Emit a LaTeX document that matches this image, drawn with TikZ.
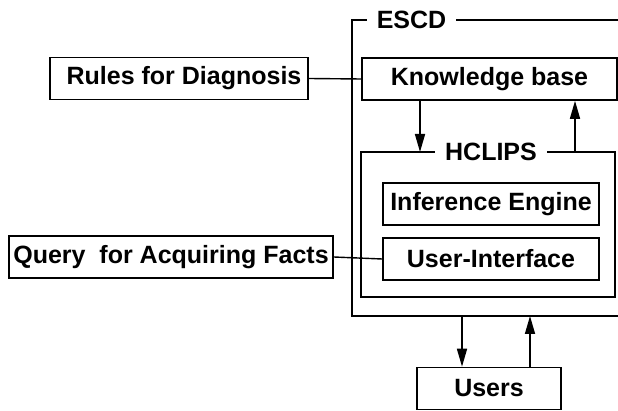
\documentclass[tikz,border=0pt]{standalone}
\usepackage{fontspec}
\setmainfont{Liberation Sans}
\usetikzlibrary{arrows.meta}

\begin{document}
\begin{tikzpicture}[x=1pt,y=-1pt,font=\fontsize{25}{29}\selectfont\bfseries]
	\tikzset{box/.style={draw=black, line width=1.6pt, minimum height=42pt, inner sep=0pt},
		frame/.style={draw=black, line width=1.4pt},
		framelabel/.style={fill=white, inner xsep=10pt, inner ysep=2pt},
		arr/.style={line width=1.6pt, -{Triangle[length=18pt,width=10pt]}}}

	\clip (0,0) rectangle (618,411);

	% ESCD frame (open to the right)
	\coordinate (escdnw) at (352,20);
	\coordinate (escdsw) at (352,316);
	\draw[frame] (640,20) -- (escdnw) -- (escdsw) -- (640,316);
	\node[framelabel] (escd) at (411.5,20) {ESCD};

	% HCLIPS frame
	\coordinate (hcnw) at (361,152);
	\coordinate (hcse) at (615,297);
	\draw[frame] (hcnw) rectangle (hcse);
	\node[framelabel] (hclips) at (491,152) {HCLIPS};

	\node[box, minimum width=258pt] (rules) at (179,78.5) {\hspace{10pt}Rules for Diagnosis};
	\node[box, minimum width=255pt] (kb) at (489.5,79) {Knowledge base};
	\node[box, minimum width=216pt] (ie) at (491,204) {Inference Engine};
	\node[box, minimum width=216pt] (ui) at (491,259) {User-Interface};
	\node[box, minimum width=324pt] (query) at (171,257) {Query~ for Acquiring Facts};
	\node[box, minimum width=144pt] (users) at (489,388.5) {Users};

	\draw[line width=1.4pt] (rules.east) -- (kb.west);
	\draw[line width=1.4pt] (query.east) -- (ui.west);

	\draw[arr] ([xshift=-69.5pt]kb.south) -- ([xshift=-69.5pt]kb.south |- hcnw);
	\draw[arr] ([xshift=85.5pt]kb.south |- hcnw) -- ([xshift=85.5pt]kb.south);

	\draw[arr] ([xshift=-27pt]users.north |- escdsw) -- ([xshift=-27pt]users.north);
	\draw[arr] ([xshift=41pt]users.north) -- ([xshift=41pt]users.north |- escdsw);
\end{tikzpicture}
\end{document}
